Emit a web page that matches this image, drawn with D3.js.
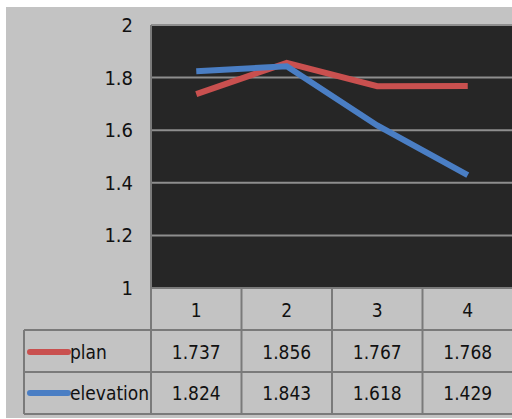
<!DOCTYPE html>
<html><head><meta charset="utf-8">
<script src="https://cdn.jsdelivr.net/npm/d3@7"></script>
<style>html,body{margin:0;padding:0;background:#fff;}svg{display:block;}</style>
</head><body>
<script>
const categories = ["1","2","3","4"];
const seriesNames = ["plan","elevation"];
const planValues = [1.737,1.856,1.767,1.768];
const elevationValues = [1.824,1.843,1.618,1.429];
const yTicks = [1,1.2,1.4,1.6,1.8,2];
const tickLabels = ["1","1.2","1.4","1.6","1.8","2"];
const colors = ["#c9504f","#4a7ec4"];

const W=512,H=419;
const font = "'DejaVu Sans Condensed','Liberation Sans Narrow','DejaVu Sans',sans-serif";
const svg=d3.select("body").append("svg").attr("width",W).attr("height",H);
svg.append("rect").attr("x",6).attr("y",7).attr("width",W-6).attr("height",411).attr("fill","#c3c3c3");

const pLeft=151,pRight=513,pTop=25,pBottom=288;
const x=d3.scaleBand().domain(categories).range([pLeft,pRight]);
const y=d3.scaleLinear().domain([1,2]).range([pBottom,pTop]);

svg.append("rect").attr("x",pLeft).attr("y",pTop).attr("width",pRight-pLeft).attr("height",pBottom-pTop).attr("fill","#262626");

// gridlines
svg.append("g").selectAll("line").data(yTicks.filter(t=>t>1&&t<2)).join("line")
  .attr("x1",pLeft).attr("x2",pRight).attr("y1",d=>y(d)).attr("y2",d=>y(d))
  .attr("stroke","#8e8e8e").attr("stroke-width",2);

// y axis
const yAxis=d3.axisLeft(y).tickValues(yTicks).tickFormat((d,i)=>tickLabels[i]).tickSize(0).tickPadding(18);
const ga=svg.append("g").attr("transform",`translate(${pLeft},0)`).call(yAxis);
ga.select(".domain").remove();
ga.selectAll("text").attr("font-family",font).attr("font-size",20).attr("fill","#111");

// lines
const series=[planValues,elevationValues];
const line=d3.line().x((d,i)=>x(categories[i])+x.bandwidth()/2).y(d=>y(d));
series.forEach((vals,k)=>{
  svg.append("path").attr("d",line(vals)).attr("fill","none")
    .attr("stroke",colors[k]).attr("stroke-width",6).attr("stroke-linejoin","miter");
});

// plot border (top)
svg.append("line").attr("x1",pLeft).attr("x2",pRight).attr("y1",pTop).attr("y2",pTop).attr("stroke","#8e8e8e").attr("stroke-width",2);

// table
const tableBottom=414, labelLeft=24;
const tb=svg.append("g");
const gridColor="#7a7a7a";
tb.append("line").attr("x1",pLeft).attr("x2",pRight).attr("y1",pBottom).attr("y2",pBottom).attr("stroke",gridColor).attr("stroke-width",2);
[330,372,414].forEach(yy=>{
  tb.append("line").attr("x1",labelLeft).attr("x2",pRight).attr("y1",yy).attr("y2",yy).attr("stroke",gridColor).attr("stroke-width",2);
});
tb.append("line").attr("x1",pLeft).attr("x2",pLeft).attr("y1",pTop).attr("y2",tableBottom).attr("stroke",gridColor).attr("stroke-width",2);
categories.forEach(c=>{
  const xx=x(c)+x.bandwidth();
  tb.append("line").attr("x1",xx).attr("x2",xx).attr("y1",pBottom).attr("y2",tableBottom).attr("stroke",gridColor).attr("stroke-width",2);
});
tb.append("line").attr("x1",labelLeft).attr("x2",labelLeft).attr("y1",330).attr("y2",tableBottom).attr("stroke",gridColor).attr("stroke-width",2);

// header
tb.selectAll("text.cat").data(categories).join("text").attr("class","cat")
  .attr("x",d=>x(d)+x.bandwidth()/2).attr("y",310).attr("text-anchor","middle").attr("dominant-baseline","central")
  .attr("font-family",font).attr("font-size",19).attr("fill","#111").text(d=>d);
// rows
const rowCenters=[352,393];
series.forEach((vals,k)=>{
  tb.append("line").attr("x1",30).attr("x2",68).attr("y1",rowCenters[k]).attr("y2",rowCenters[k])
    .attr("stroke",colors[k]).attr("stroke-width",6).attr("stroke-linecap","round");
  tb.append("text").attr("x",70).attr("y",rowCenters[k]).attr("dominant-baseline","central")
    .attr("font-family",font).attr("font-size",19).attr("fill","#111").text(seriesNames[k]);
  tb.selectAll(null).data(vals).join("text")
    .attr("x",(d,i)=>x(categories[i])+x.bandwidth()/2).attr("y",rowCenters[k])
    .attr("text-anchor","middle").attr("dominant-baseline","central")
    .attr("font-family",font).attr("font-size",19).attr("fill","#111").text(d=>d.toFixed(3));
});
</script>
</body></html>
